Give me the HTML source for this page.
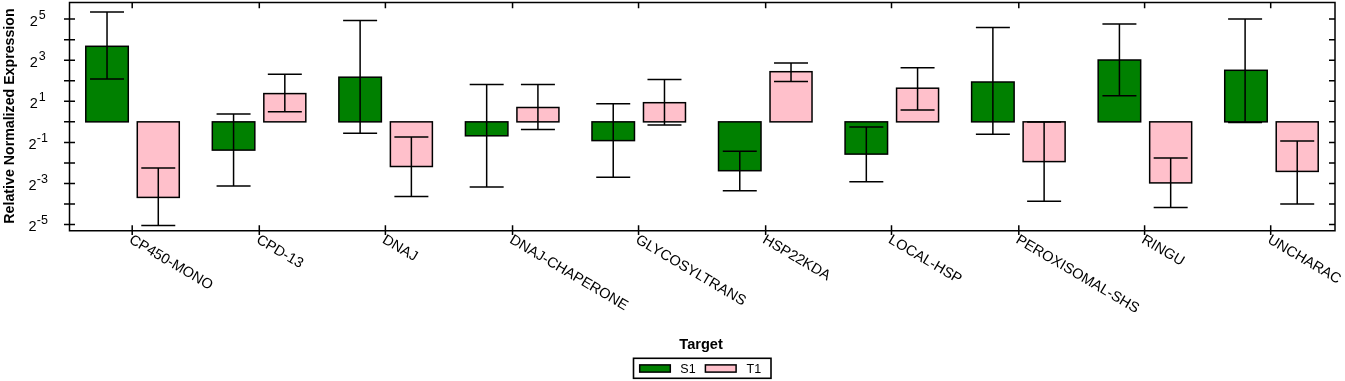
<!DOCTYPE html>
<html><head><meta charset="utf-8"><title>Relative Normalized Expression</title>
<style>html,body{margin:0;padding:0;background:#fff;width:1345px;height:381px;overflow:hidden}</style>
</head><body>
<svg width="1345" height="381" viewBox="0 0 1345 381" style="display:block">
<rect width="100%" height="100%" fill="#fff"/>
<rect x="85.78" y="46.30" width="42.50" height="75.55" fill="#008000" stroke="#000" stroke-width="1.5"/>
<path d="M107.03 12.10V79.10M90.03 12.10H124.03M90.03 79.10H124.03" stroke="#000" stroke-width="1.5" fill="none"/>
<rect x="137.28" y="121.85" width="42.00" height="75.55" fill="#ffc0cb" stroke="#000" stroke-width="1.5"/>
<path d="M158.28 168.10V225.60M141.28 168.10H175.28M141.28 225.60H175.28" stroke="#000" stroke-width="1.5" fill="none"/>
<rect x="212.32" y="121.85" width="42.50" height="28.25" fill="#008000" stroke="#000" stroke-width="1.5"/>
<path d="M233.57 113.90V185.90M216.57 113.90H250.57M216.57 185.90H250.57" stroke="#000" stroke-width="1.5" fill="none"/>
<rect x="263.82" y="93.60" width="42.00" height="28.25" fill="#ffc0cb" stroke="#000" stroke-width="1.5"/>
<path d="M284.82 74.20V111.70M267.82 74.20H301.82M267.82 111.70H301.82" stroke="#000" stroke-width="1.5" fill="none"/>
<rect x="338.88" y="77.20" width="42.50" height="44.65" fill="#008000" stroke="#000" stroke-width="1.5"/>
<path d="M360.12 20.40V133.20M343.12 20.40H377.12M343.12 133.20H377.12" stroke="#000" stroke-width="1.5" fill="none"/>
<rect x="390.38" y="121.85" width="42.00" height="44.65" fill="#ffc0cb" stroke="#000" stroke-width="1.5"/>
<path d="M411.38 136.90V196.40M394.38 136.90H428.38M394.38 196.40H428.38" stroke="#000" stroke-width="1.5" fill="none"/>
<rect x="465.42" y="121.85" width="42.50" height="13.95" fill="#008000" stroke="#000" stroke-width="1.5"/>
<path d="M486.67 84.60V187.10M469.67 84.60H503.67M469.67 187.10H503.67" stroke="#000" stroke-width="1.5" fill="none"/>
<rect x="516.92" y="107.50" width="42.00" height="14.35" fill="#ffc0cb" stroke="#000" stroke-width="1.5"/>
<path d="M537.92 84.60V129.40M520.92 84.60H554.92M520.92 129.40H554.92" stroke="#000" stroke-width="1.5" fill="none"/>
<rect x="591.98" y="121.85" width="42.50" height="18.75" fill="#008000" stroke="#000" stroke-width="1.5"/>
<path d="M613.23 103.70V177.20M596.23 103.70H630.23M596.23 177.20H630.23" stroke="#000" stroke-width="1.5" fill="none"/>
<rect x="643.48" y="102.70" width="42.00" height="19.15" fill="#ffc0cb" stroke="#000" stroke-width="1.5"/>
<path d="M664.48 79.50V124.90M647.48 79.50H681.48M647.48 124.90H681.48" stroke="#000" stroke-width="1.5" fill="none"/>
<rect x="718.52" y="121.85" width="42.50" height="48.85" fill="#008000" stroke="#000" stroke-width="1.5"/>
<path d="M739.77 151.30V190.80M722.77 151.30H756.77M722.77 190.80H756.77" stroke="#000" stroke-width="1.5" fill="none"/>
<rect x="770.02" y="71.70" width="42.00" height="50.15" fill="#ffc0cb" stroke="#000" stroke-width="1.5"/>
<path d="M791.02 63.00V81.50M774.02 63.00H808.02M774.02 81.50H808.02" stroke="#000" stroke-width="1.5" fill="none"/>
<rect x="845.07" y="121.85" width="42.50" height="32.25" fill="#008000" stroke="#000" stroke-width="1.5"/>
<path d="M866.32 126.90V181.70M849.32 126.90H883.32M849.32 181.70H883.32" stroke="#000" stroke-width="1.5" fill="none"/>
<rect x="896.57" y="88.20" width="42.00" height="33.65" fill="#ffc0cb" stroke="#000" stroke-width="1.5"/>
<path d="M917.57 67.70V109.90M900.57 67.70H934.57M900.57 109.90H934.57" stroke="#000" stroke-width="1.5" fill="none"/>
<rect x="971.62" y="82.00" width="42.50" height="39.85" fill="#008000" stroke="#000" stroke-width="1.5"/>
<path d="M992.88 27.60V134.30M975.88 27.60H1009.88M975.88 134.30H1009.88" stroke="#000" stroke-width="1.5" fill="none"/>
<rect x="1023.12" y="121.85" width="42.00" height="39.75" fill="#ffc0cb" stroke="#000" stroke-width="1.5"/>
<path d="M1044.12 121.90V201.30M1027.12 121.90H1061.12M1027.12 201.30H1061.12" stroke="#000" stroke-width="1.5" fill="none"/>
<rect x="1098.17" y="60.00" width="42.50" height="61.85" fill="#008000" stroke="#000" stroke-width="1.5"/>
<path d="M1119.42 23.90V95.80M1102.42 23.90H1136.42M1102.42 95.80H1136.42" stroke="#000" stroke-width="1.5" fill="none"/>
<rect x="1149.67" y="121.85" width="42.00" height="61.05" fill="#ffc0cb" stroke="#000" stroke-width="1.5"/>
<path d="M1170.67 157.90V207.50M1153.67 157.90H1187.67M1153.67 207.50H1187.67" stroke="#000" stroke-width="1.5" fill="none"/>
<rect x="1224.72" y="70.30" width="42.50" height="51.55" fill="#008000" stroke="#000" stroke-width="1.5"/>
<path d="M1245.10 19.00V122.60M1228.10 19.00H1262.10M1228.10 122.60H1262.10" stroke="#000" stroke-width="1.5" fill="none"/>
<rect x="1276.22" y="121.85" width="42.00" height="49.55" fill="#ffc0cb" stroke="#000" stroke-width="1.5"/>
<path d="M1297.22 140.90V203.90M1280.22 140.90H1314.22M1280.22 203.90H1314.22" stroke="#000" stroke-width="1.5" fill="none"/>
<path d="M69.5 230.8V2.5H1335V230.8Z" fill="none" stroke="#000" stroke-width="1.5"/>
<path d="M64.00 224.60H75.00M1329.00 224.60H1335.00M64.00 204.05H75.00M1329.00 204.05H1335.00M64.00 183.50H75.00M1329.00 183.50H1335.00M64.00 162.95H75.00M1329.00 162.95H1335.00M64.00 142.40H75.00M1329.00 142.40H1335.00M64.00 121.85H75.00M1329.00 121.85H1335.00M64.00 101.30H75.00M1329.00 101.30H1335.00M64.00 80.75H75.00M1329.00 80.75H1335.00M64.00 60.20H75.00M1329.00 60.20H1335.00M64.00 39.65H75.00M1329.00 39.65H1335.00M64.00 19.10H75.00M1329.00 19.10H1335.00M132.20 225.30V235.10M132.20 2.50V8.30M259.30 225.30V235.10M259.30 2.50V8.30M385.40 225.30V235.10M385.40 2.50V8.30M512.55 225.30V235.10M512.55 2.50V8.30M638.55 225.30V235.10M638.55 2.50V8.30M765.65 225.30V235.10M765.65 2.50V8.30M891.50 225.30V235.10M891.50 2.50V8.30M1018.80 225.30V235.10M1018.80 2.50V8.30M1144.60 225.30V235.10M1144.60 2.50V8.30M1270.70 225.30V235.10M1270.70 2.50V8.30" stroke="#000" stroke-width="1.5" fill="none"/>
<text x="29.8" y="25.80" font-family="Liberation Sans, Arial, sans-serif" font-size="14.5" fill="#000">2</text>
<text x="38.7" y="18.60" font-family="Liberation Sans, Arial, sans-serif" font-size="12.5" fill="#000">5</text>
<text x="29.8" y="66.90" font-family="Liberation Sans, Arial, sans-serif" font-size="14.5" fill="#000">2</text>
<text x="38.7" y="59.70" font-family="Liberation Sans, Arial, sans-serif" font-size="12.5" fill="#000">3</text>
<text x="29.8" y="108.00" font-family="Liberation Sans, Arial, sans-serif" font-size="14.5" fill="#000">2</text>
<text x="38.7" y="100.80" font-family="Liberation Sans, Arial, sans-serif" font-size="12.5" fill="#000">1</text>
<text x="28.5" y="149.10" font-family="Liberation Sans, Arial, sans-serif" font-size="14.5" fill="#000">2</text>
<text x="36.8" y="141.90" font-family="Liberation Sans, Arial, sans-serif" font-size="12.5" fill="#000">-1</text>
<text x="28.5" y="190.20" font-family="Liberation Sans, Arial, sans-serif" font-size="14.5" fill="#000">2</text>
<text x="36.8" y="183.00" font-family="Liberation Sans, Arial, sans-serif" font-size="12.5" fill="#000">-3</text>
<text x="28.5" y="231.30" font-family="Liberation Sans, Arial, sans-serif" font-size="14.5" fill="#000">2</text>
<text x="36.8" y="224.10" font-family="Liberation Sans, Arial, sans-serif" font-size="12.5" fill="#000">-5</text>
<text transform="translate(13.6,116) rotate(-90)" text-anchor="middle" font-family="Liberation Sans, Arial, sans-serif" font-size="14.2" font-weight="bold" fill="#000">Relative Normalized Expression</text>
<text transform="translate(133.60,233.30) rotate(30.5)" font-family="Liberation Sans, Arial, sans-serif" font-size="14.5" letter-spacing="0" fill="#000" dominant-baseline="hanging">CP450-MONO</text>
<text transform="translate(260.70,233.30) rotate(30.5)" font-family="Liberation Sans, Arial, sans-serif" font-size="14.5" letter-spacing="0" fill="#000" dominant-baseline="hanging">CPD-13</text>
<text transform="translate(386.80,233.30) rotate(30.5)" font-family="Liberation Sans, Arial, sans-serif" font-size="14.5" letter-spacing="0" fill="#000" dominant-baseline="hanging">DNAJ</text>
<text transform="translate(513.95,233.30) rotate(30.5)" font-family="Liberation Sans, Arial, sans-serif" font-size="14.5" letter-spacing="0" fill="#000" dominant-baseline="hanging">DNAJ-CHAPERONE</text>
<text transform="translate(639.95,233.30) rotate(30.5)" font-family="Liberation Sans, Arial, sans-serif" font-size="14.5" letter-spacing="0" fill="#000" dominant-baseline="hanging">GLYCOSYLTRANS</text>
<text transform="translate(767.05,233.30) rotate(30.5)" font-family="Liberation Sans, Arial, sans-serif" font-size="14.5" letter-spacing="0" fill="#000" dominant-baseline="hanging">HSP22KDA</text>
<text transform="translate(892.90,233.30) rotate(30.5)" font-family="Liberation Sans, Arial, sans-serif" font-size="14.5" letter-spacing="0" fill="#000" dominant-baseline="hanging">LOCAL-HSP</text>
<text transform="translate(1020.20,233.30) rotate(30.5)" font-family="Liberation Sans, Arial, sans-serif" font-size="14.5" letter-spacing="0" fill="#000" dominant-baseline="hanging">PEROXISOMAL-SHS</text>
<text transform="translate(1146.00,233.30) rotate(30.5)" font-family="Liberation Sans, Arial, sans-serif" font-size="14.5" letter-spacing="0" fill="#000" dominant-baseline="hanging">RINGU</text>
<text transform="translate(1272.10,233.30) rotate(30.5)" font-family="Liberation Sans, Arial, sans-serif" font-size="14.5" letter-spacing="0" fill="#000" dominant-baseline="hanging">UNCHARAC</text>
<text x="701.1" y="348.6" text-anchor="middle" font-family="Liberation Sans, Arial, sans-serif" font-size="14.6" font-weight="bold" fill="#000">Target</text>
<rect x="633.5" y="358.3" width="137.5" height="20" fill="#fff" stroke="#000" stroke-width="1.6"/>
<rect x="639.7" y="364.9" width="30.6" height="7.2" fill="#008000" stroke="#000" stroke-width="1.5"/>
<text x="680.3" y="372.6" font-family="Liberation Sans, Arial, sans-serif" font-size="12.5" fill="#000">S1</text>
<rect x="705.4" y="364.9" width="30.7" height="7.2" fill="#ffc0cb" stroke="#000" stroke-width="1.5"/>
<text x="746.5" y="372.6" font-family="Liberation Sans, Arial, sans-serif" font-size="12.5" fill="#000">T1</text>
</svg>
</body></html>
